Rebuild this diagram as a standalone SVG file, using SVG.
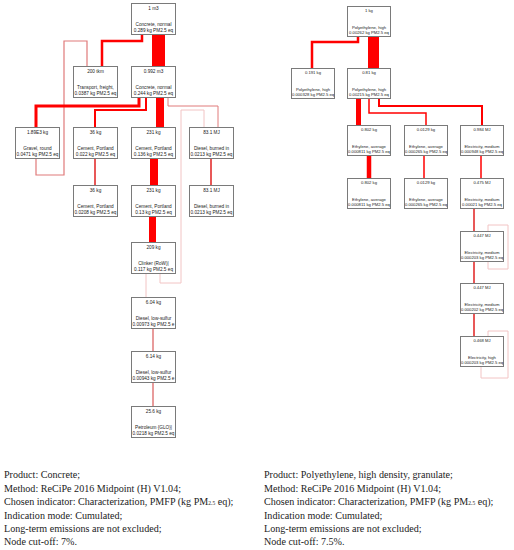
<svg xmlns="http://www.w3.org/2000/svg" width="514" height="550" viewBox="0 0 514 550">
<style>
.b{fill:#fff;stroke:#7a7a7a;stroke-width:1}
.t{font-family:"Liberation Sans",Arial,sans-serif;font-size:4.7px;fill:#222;text-anchor:middle}
.r .t{font-size:4.2px}
.c{fill:none;stroke-linecap:butt;stroke-linejoin:miter}
.red{stroke:#ff0000}
.mid{stroke:#e02020}
.pk{stroke:#e07a7a}
.fa{stroke:#f2c4c4}
.cap{font-family:"Liberation Serif","Times New Roman",serif;font-size:10.1px;fill:#222}
</style>
<rect width="514" height="550" fill="#fff"/>
<g id="connectors">
<path class="c red" stroke-width="13" d="M158.5,34V67"/>
<path class="c red" stroke-width="2.5" d="M142,34V41H102V67"/>
<path class="c pk" stroke-width="1.2" d="M87,67V41H64V175H36V158"/>
<path class="c red" stroke-width="3" d="M139,97V106H36V127"/>
<path class="c red" stroke-width="2" d="M146,97V110H95V127"/>
<path class="c red" stroke-width="8" d="M160,97V127"/>
<path class="c pk" stroke-width="1" d="M168,97V106H218V127"/>
<path class="c fa" stroke-width="1" d="M204,127V110H181V283H160V273"/>
<path class="c mid" stroke-width="1.5" d="M95,158V185"/>
<path class="c red" stroke-width="8" d="M154,158V185"/>
<path class="c mid" stroke-width="1.5" d="M211,158V185"/>
<path class="c red" stroke-width="7" d="M152.5,216V242"/>
<path class="c fa" stroke-width="1" d="M146,273V297"/>
<path class="c pk" stroke-width="1.5" d="M153,328V351"/>
<path class="c pk" stroke-width="1.5" d="M153,382V406"/>
<path class="c red" stroke-width="11" d="M373.5,36V68"/>
<path class="c red" stroke-width="2.5" d="M358,36V42H312V68"/>
<path class="c red" stroke-width="5" d="M358.5,98V125"/>
<path class="c red" stroke-width="1.5" d="M369,98V113H426V125"/>
<path class="c red" stroke-width="2" d="M379,98V106H482V125"/>
<path class="c red" stroke-width="4.5" d="M369,155V178"/>
<path class="c red" stroke-width="1.5" d="M424,155V178"/>
<path class="c red" stroke-width="1.5" d="M481,155V178"/>
<path class="c mid" stroke-width="1.5" d="M474,208V231"/>
<path class="c mid" stroke-width="1.5" d="M474,261V283"/>
<path class="c mid" stroke-width="1.5" d="M474,313V336"/>
<path class="c fa" stroke-width="1" d="M488,231V225H508V269H488V261"/>
<path class="c fa" stroke-width="1" d="M488,336V331H508V378H481V366"/>
</g>
<g id="L1"><rect class="b" x="131.5" y="3.5" width="44" height="31"/><text class="t" x="153.5" y="9.5">1 m3</text><text class="t" x="153.5" y="26">Concrete, normal</text><text class="t" x="153.5" y="32">0.289 kg PM2.5 eq</text></g>
<g id="L2"><rect class="b" x="73.5" y="66.5" width="44" height="31"/><text class="t" x="95.5" y="72.5">200 tkm</text><text class="t" x="95.5" y="89">Transport, freight,</text><text class="t" x="95.5" y="95">0.0387 kg PM2.5 eq</text></g>
<g id="L3"><rect class="b" x="131.5" y="66.5" width="44" height="31"/><text class="t" x="153.5" y="72.5">0.992 m3</text><text class="t" x="153.5" y="89">Concrete, normal</text><text class="t" x="153.5" y="95">0.244 kg PM2.5 eq</text></g>
<g id="L4"><rect class="b" x="15.5" y="127.5" width="44" height="31"/><text class="t" x="37.5" y="133.5">1.89E3 kg</text><text class="t" x="37.5" y="150">Gravel, round</text><text class="t" x="37.5" y="156">0.0471 kg PM2.5 eq</text></g>
<g id="L5"><rect class="b" x="73.5" y="127.5" width="44" height="31"/><text class="t" x="95.5" y="133.5">36 kg</text><text class="t" x="95.5" y="150">Cement, Portland</text><text class="t" x="95.5" y="156">0.022 kg PM2.5 eq</text></g>
<g id="L6"><rect class="b" x="131.5" y="127.5" width="44" height="31"/><text class="t" x="153.5" y="133.5">231 kg</text><text class="t" x="153.5" y="150">Cement, Portland</text><text class="t" x="153.5" y="156">0.136 kg PM2.5 eq</text></g>
<g id="L7"><rect class="b" x="189.5" y="127.5" width="44" height="31"/><text class="t" x="211.5" y="133.5">83.1 MJ</text><text class="t" x="211.5" y="150">Diesel, burned in</text><text class="t" x="211.5" y="156">0.0213 kg PM2.5 eq</text></g>
<g id="L8"><rect class="b" x="73.5" y="185.5" width="44" height="31"/><text class="t" x="95.5" y="191.5">36 kg</text><text class="t" x="95.5" y="208">Cement, Portland</text><text class="t" x="95.5" y="214">0.0208 kg PM2.5 eq</text></g>
<g id="L9"><rect class="b" x="131.5" y="185.5" width="44" height="31"/><text class="t" x="153.5" y="191.5">231 kg</text><text class="t" x="153.5" y="208">Cement, Portland</text><text class="t" x="153.5" y="214">0.13 kg PM2.5 eq</text></g>
<g id="L10"><rect class="b" x="189.5" y="185.5" width="44" height="31"/><text class="t" x="211.5" y="191.5">83.1 MJ</text><text class="t" x="211.5" y="208">Diesel, burned in</text><text class="t" x="211.5" y="214">0.0213 kg PM2.5 eq</text></g>
<g id="L11"><rect class="b" x="131.5" y="242.5" width="44" height="31"/><text class="t" x="153.5" y="248.5">209 kg</text><text class="t" x="153.5" y="265">Clinker (RoW)|</text><text class="t" x="153.5" y="271">0.117 kg PM2.5 eq</text></g>
<g id="L12"><rect class="b" x="131.5" y="297.5" width="44" height="31"/><text class="t" x="153.5" y="303.5">6.04 kg</text><text class="t" x="153.5" y="320">Diesel, low-sulfur</text><text class="t" x="153.5" y="326">0.00973 kg PM2.5 e</text></g>
<g id="L13"><rect class="b" x="131.5" y="351.5" width="44" height="31"/><text class="t" x="153.5" y="357.5">6.14 kg</text><text class="t" x="153.5" y="374">Diesel, low-sulfur</text><text class="t" x="153.5" y="380">0.00943 kg PM2.5 e</text></g>
<g id="L14"><rect class="b" x="131.5" y="406.5" width="44" height="31"/><text class="t" x="153.5" y="412.5">25.6 kg</text><text class="t" x="153.5" y="429">Petroleum {GLO}|</text><text class="t" x="153.5" y="435">0.0218 kg PM2.5 eq</text></g>
<g class="r">
<g id="R1"><rect class="b" x="347.5" y="6.5" width="43" height="30"/><text class="t" x="369" y="12">1 kg</text><text class="t" x="369" y="28.5">Polyethylene, high</text><text class="t" x="369" y="34">0.00262 kg PM2.5 eq</text></g>
<g id="R2"><rect class="b" x="291.5" y="68.5" width="43" height="30"/><text class="t" x="313" y="74">0.191 kg</text><text class="t" x="313" y="90.5">Polyethylene, high</text><text class="t" x="313" y="96">0.000328 kg PM2.5 eq</text></g>
<g id="R3"><rect class="b" x="347.5" y="68.5" width="43" height="30"/><text class="t" x="369" y="74">0.81 kg</text><text class="t" x="369" y="90.5">Polyethylene, high</text><text class="t" x="369" y="96">0.00215 kg PM2.5 eq</text></g>
<g id="R4"><rect class="b" x="347.5" y="125.5" width="43" height="30"/><text class="t" x="369" y="131">0.802 kg</text><text class="t" x="369" y="147.5">Ethylene, average</text><text class="t" x="369" y="153">0.000811 kg PM2.5 eq</text></g>
<g id="R5"><rect class="b" x="404.5" y="125.5" width="43" height="30"/><text class="t" x="426" y="131">0.0129 kg</text><text class="t" x="426" y="147.5">Ethylene, average</text><text class="t" x="426" y="153">0.000265 kg PM2.5 eq</text></g>
<g id="R6"><rect class="b" x="460.5" y="125.5" width="43" height="30"/><text class="t" x="482" y="131">0.984 MJ</text><text class="t" x="482" y="147.5">Electricity, medium</text><text class="t" x="482" y="153">0.000948 kg PM2.5 eq</text></g>
<g id="R7"><rect class="b" x="347.5" y="178.5" width="43" height="30"/><text class="t" x="369" y="184">0.802 kg</text><text class="t" x="369" y="200.5">Ethylene, average</text><text class="t" x="369" y="206">0.000811 kg PM2.5 eq</text></g>
<g id="R8"><rect class="b" x="404.5" y="178.5" width="43" height="30"/><text class="t" x="426" y="184">0.0129 kg</text><text class="t" x="426" y="200.5">Ethylene, average</text><text class="t" x="426" y="206">0.000265 kg PM2.5 eq</text></g>
<g id="R9"><rect class="b" x="460.5" y="178.5" width="43" height="30"/><text class="t" x="482" y="184">0.475 MJ</text><text class="t" x="482" y="200.5">Electricity, medium</text><text class="t" x="482" y="206">0.00021 kg PM2.5 eq</text></g>
<g id="R10"><rect class="b" x="460.5" y="231.5" width="43" height="30"/><text class="t" x="482" y="237">0.447 MJ</text><text class="t" x="482" y="253.5">Electricity, medium</text><text class="t" x="482" y="259">0.000203 kg PM2.5 eq</text></g>
<g id="R11"><rect class="b" x="460.5" y="283.5" width="43" height="30"/><text class="t" x="482" y="289">0.447 MJ</text><text class="t" x="482" y="305.5">Electricity, medium</text><text class="t" x="482" y="311">0.000202 kg PM2.5 eq</text></g>
<g id="R12"><rect class="b" x="460.5" y="336.5" width="43" height="30"/><text class="t" x="482" y="342">0.468 MJ</text><text class="t" x="482" y="358.5">Electricity, high</text><text class="t" x="482" y="364">0.000203 kg PM2.5 eq</text></g>
</g>
<g id="caption-left" class="cap">
<text x="4" y="478">Product: Concrete;</text>
<text x="4" y="491.5">Method: ReCiPe 2016 Midpoint (H) V1.04;</text>
<text x="4" y="505">Chosen indicator: Characterization, PMFP (kg PM<tspan font-size="5.5">2.5</tspan> eq);</text>
<text x="4" y="518.5">Indication mode: Cumulated;</text>
<text x="4" y="532">Long-term emissions are not excluded;</text>
<text x="4" y="545">Node cut-off: 7%.</text>
</g>
<g id="caption-right" class="cap">
<text x="264" y="478">Product: Polyethylene, high density, granulate;</text>
<text x="264" y="491.5">Method: ReCiPe 2016 Midpoint (H) V1.04;</text>
<text x="264" y="505">Chosen indicator: Characterization, PMFP (kg PM<tspan font-size="5.5">2.5</tspan> eq);</text>
<text x="264" y="518.5">Indication mode: Cumulated;</text>
<text x="264" y="532">Long-term emissions are not excluded;</text>
<text x="264" y="545">Node cut-off: 7.5%.</text>
</g>
</svg>
